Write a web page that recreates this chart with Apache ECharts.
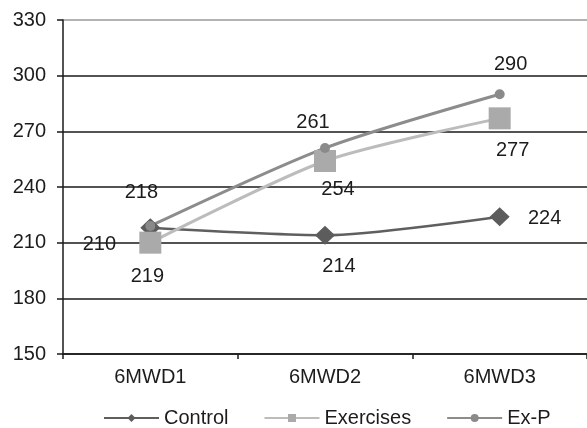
<!DOCTYPE html>
<html>
<head>
<meta charset="utf-8">
<script src="https://cdn.jsdelivr.net/npm/echarts@6/dist/echarts.min.js"></script>
<style>
html,body{margin:0;padding:0;background:#fff;}
#chart{width:587px;height:428px;}
</style>
</head>
<body>
<div id="chart"></div>
<script>
// ---- data ----
var categories = ['6MWD1', '6MWD2', '6MWD3'];
var seriesNames = ['Control', 'Exercises', 'Ex-P'];
var controlValues = [218, 214, 224];
var exercisesValues = [210, 254, 277];
var expValues = [219, 261, 290];
var yTicks = [150, 180, 210, 240, 270, 300, 330];

// ---- styling (label offsets relative to marker centres) ----
var labelOffsets = {
  'Control':   [[-9, -35], [14, 31], [45, 2]],
  'Exercises': [[-51, 2], [13, 28], [13, 32]],
  'Ex-P':      [[-3, 51], [-12, -26], [11, -30]]
};
var styles = {
  'Control':   {color: '#5c5c5c', line: '#5f5f5f', symbol: 'diamond', size: [20, 19], width: 2.5},
  'Exercises': {color: '#aaaaaa', line: '#bcbcbc', symbol: 'rect', size: 22, width: 3},
  'Ex-P':      {color: '#8a8a8a', line: '#8c8c8c', symbol: 'circle', size: 10, width: 3}
};
var FONT = 'Liberation Sans, Arial, sans-serif';
var TXT = '#1c1c1c';

function makeSeries(name, values) {
  var st = styles[name];
  return {
    name: name,
    type: 'line',
    smooth: 0.25,
    symbol: st.symbol,
    symbolSize: st.size,
    itemStyle: {color: st.color},
    lineStyle: {color: st.line, width: st.width},
    data: values.map(function (v, i) {
      return {
        value: v,
        label: {
          show: true,
          position: 'inside',
          offset: labelOffsets[name][i],
          color: TXT,
          fontSize: 20,
          fontFamily: FONT
        }
      };
    })
  };
}

var chart = echarts.init(document.getElementById('chart'), null, {renderer: 'canvas'});
var gridLineColors = yTicks.map(function (t, i) { return i === yTicks.length - 1 ? '#9a9a9a' : '#1a1a1a'; });

chart.setOption({
  backgroundColor: '#fff',
  animation: false,
  textStyle: {fontFamily: FONT},
  grid: {left: 63, right: -1, top: 20, bottom: 74},
  xAxis: {
    type: 'category', data: categories, boundaryGap: true,
    axisLine: {show: true, lineStyle: {color: '#1a1a1a', width: 1.5}},
    axisTick: {show: true, length: 5, lineStyle: {color: '#1a1a1a', width: 1.5}},
    axisLabel: {show: true, color: TXT, fontSize: 20, fontFamily: FONT, margin: 13},
    splitLine: {show: false}
  },
  yAxis: {
    type: 'value', min: yTicks[0], max: yTicks[yTicks.length - 1], interval: 30,
    axisLine: {show: true, lineStyle: {color: '#1a1a1a', width: 1.5}},
    axisTick: {show: true, length: 6, lineStyle: {color: '#1a1a1a', width: 1.5}},
    axisLabel: {color: TXT, fontSize: 20, fontFamily: FONT, margin: 17},
    splitLine: {show: true, lineStyle: {color: gridLineColors, width: 1.5}}
  },
  legend: {
    data: seriesNames,
    left: 98,
    top: 403,
    itemWidth: 55,
    itemHeight: 10,
    itemGap: 35,
    textStyle: {color: TXT, fontSize: 20, fontFamily: FONT}
  },
  series: [
    makeSeries('Control', controlValues),
    makeSeries('Exercises', exercisesValues),
    makeSeries('Ex-P', expValues)
  ]
});
</script>
</body>
</html>
